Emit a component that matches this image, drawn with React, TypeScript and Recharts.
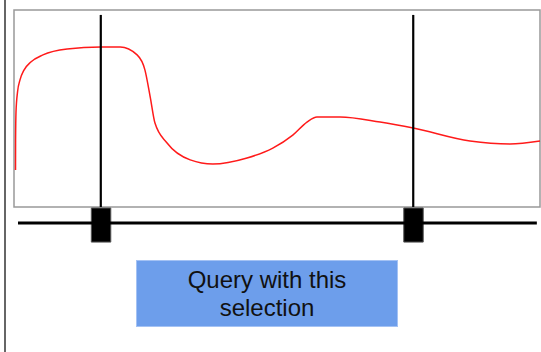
import React from "react";
import {
  ComposedChart,
  Line,
  XAxis,
  YAxis,
  ReferenceArea,
  ReferenceLine,
} from "recharts";

// time axis (0..100) and signal value (0..100)
const timePoints = [
  0.29, 0.3, 0.38, 0.67, 1.14, 1.9, 3.2, 5.5, 10.1, 16.5, 20.2, 23.4, 24.9,
  25.9, 26.8, 29.1, 33.5, 37.8, 44.3, 49.2, 53.0, 55.7, 57.6, 62.0, 69.6,
  75.9, 86.7, 94.3, 100,
];
const signalValues = [
  18.8, 34.0, 48.2, 58.4, 64.5, 69.5, 73.6, 77.2, 80.2, 81.2, 81.2, 77.2,
  69.5, 55.8, 42.6, 32.5, 23.9, 21.8, 24.9, 29.9, 36.5, 43.1, 45.7, 45.7,
  43.1, 40.1, 33.5, 32.0, 33.5,
];
// selected range on the time axis
const selection = [16.5, 75.9];
const buttonLabel = ["Query with this", "selection"];

const data = timePoints.map((t, i) => ({ t, v: signalValues[i] }));

const App: React.FC = () => {
  return (
    <div
      style={{
        position: "absolute",
        left: 0,
        top: 0,
        width: 541,
        height: 352,
        background: "#fff",
        fontFamily: "'Liberation Sans', Arial, sans-serif",
      }}
    >
      <div
        style={{
          position: "absolute",
          left: 4,
          top: 0,
          width: 2,
          height: 352,
          background: "#666",
        }}
      />
      <ComposedChart
        width={541}
        height={352}
        data={data}
        margin={{ top: 10, right: 1, bottom: 145, left: 14 }}
      >
        <XAxis type="number" dataKey="t" domain={[0, 100]} hide />
        <YAxis type="number" domain={[0, 100]} hide />
        <ReferenceArea
          x1={0}
          x2={100}
          y1={0}
          y2={100}
          fill="none"
          stroke="#999"
          strokeWidth={1.5}
        />
        <Line
          type="monotone"
          dataKey="v"
          stroke="#ff1a1a"
          strokeWidth={1.5}
          dot={false}
          isAnimationActive={false}
        />
        {selection.map((s) => (
          <ReferenceLine
            key={"sel" + s}
            segment={[
              { x: s, y: 0 },
              { x: s, y: 97.5 },
            ]}
            stroke="#000"
            strokeWidth={2.2}
          />
        ))}
        {/* slider track */}
        <ReferenceLine
          segment={[
            { x: 0.76, y: -8.1 },
            { x: 99.4, y: -8.1 },
          ]}
          stroke="#000"
          strokeWidth={3}
          ifOverflow="visible"
        />
        {selection.map((s) => (
          <ReferenceArea
            key={"handle" + s}
            x1={s - 1.8}
            x2={s + 1.9}
            y1={-0.5}
            y2={-17.8}
            fill="#000"
            fillOpacity={1}
            stroke="#555"
            strokeWidth={1}
            ifOverflow="visible"
          />
        ))}
      </ComposedChart>
      <div
        style={{
          position: "absolute",
          left: 136,
          top: 260,
          width: 262,
          height: 67,
          boxSizing: "border-box",
          background: "#6d9eeb",
          border: "1px solid #a4c2f4",
          color: "#111",
          fontSize: 24,
          lineHeight: "28px",
          textAlign: "center",
          paddingTop: 5,
        }}
      >
        {buttonLabel.map((l) => (
          <div key={l}>{l}</div>
        ))}
      </div>
    </div>
  );
};

export default App;
